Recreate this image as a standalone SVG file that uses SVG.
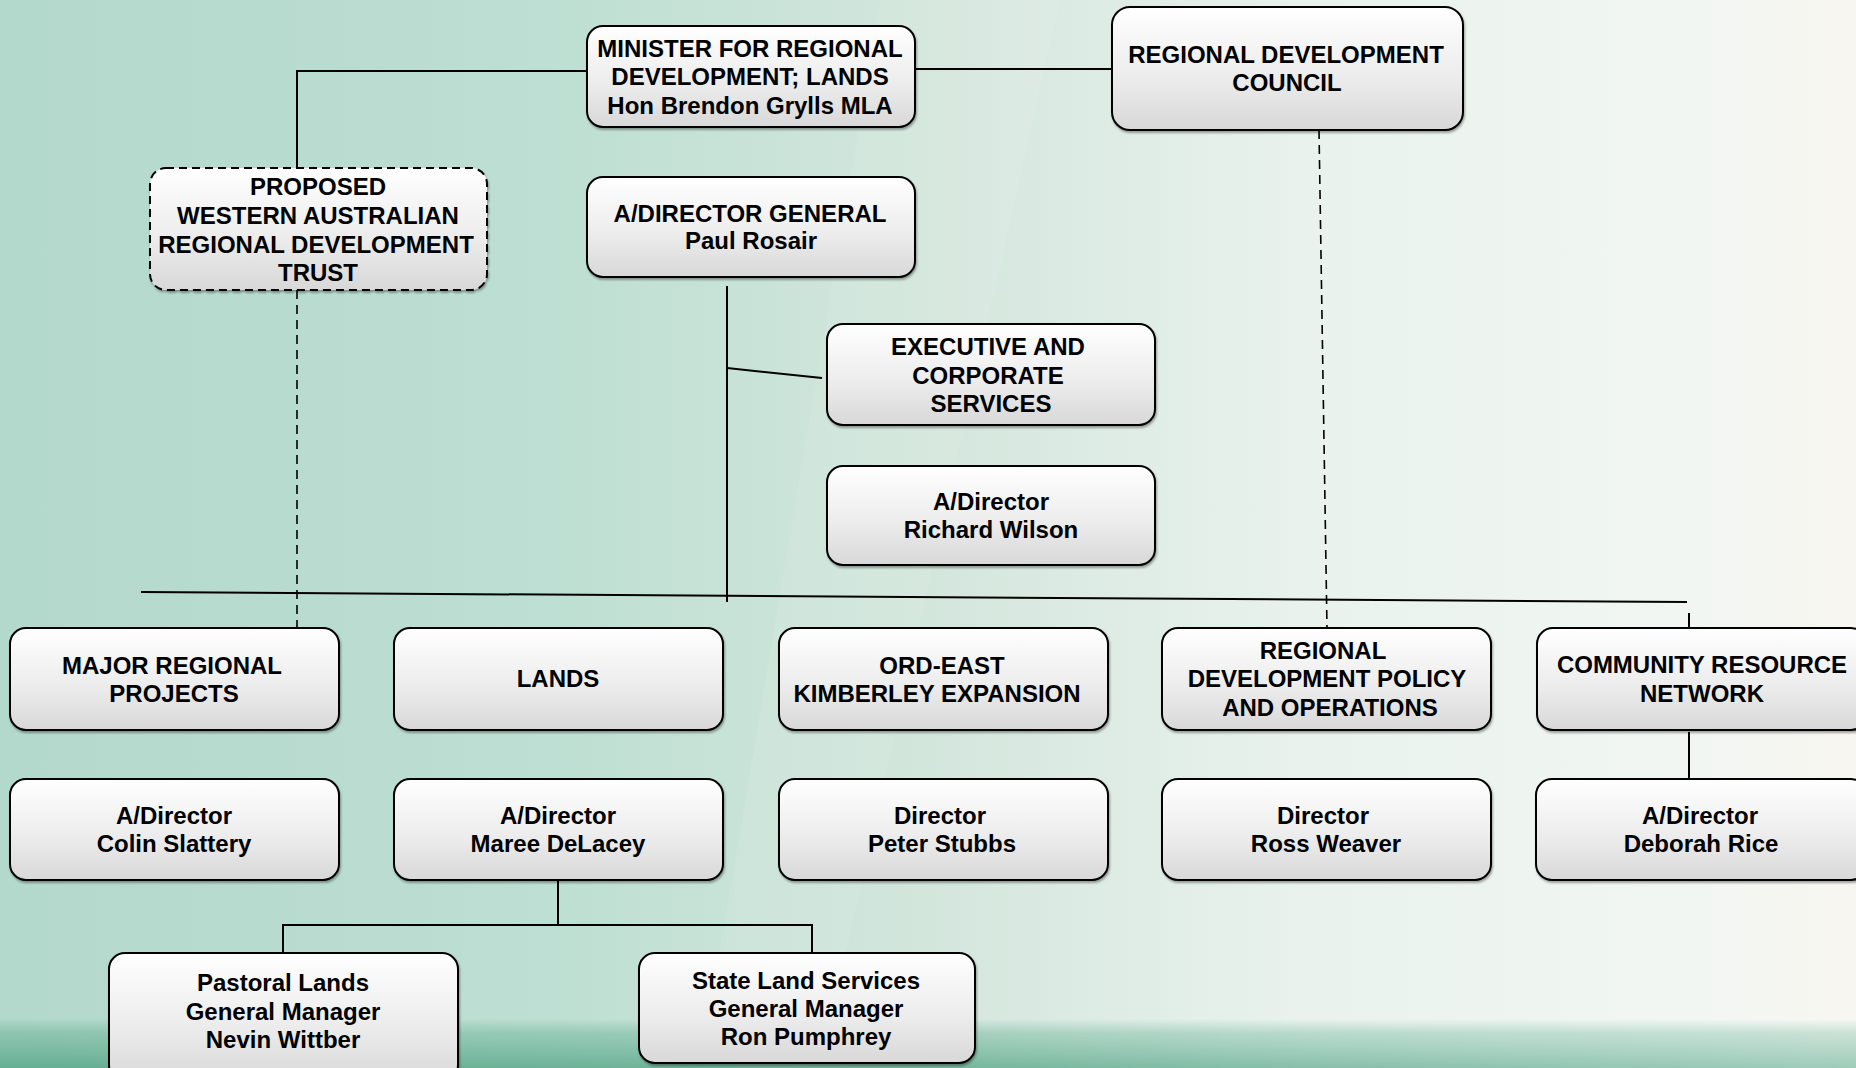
<svg xmlns="http://www.w3.org/2000/svg" width="1856" height="1068" viewBox="0 0 1856 1068">
<defs>
<linearGradient id="bg" x1="0" y1="0" x2="1" y2="0">
<stop offset="0" stop-color="#b3d8cc"/>
<stop offset="0.3" stop-color="#bedfd3"/>
<stop offset="0.5" stop-color="#d3e6dc"/>
<stop offset="0.7" stop-color="#e9f2ed"/>
<stop offset="0.9" stop-color="#f1f6f3"/>
<stop offset="1" stop-color="#f8f6f0"/>
</linearGradient>
<linearGradient id="grass" x1="0" y1="0" x2="0" y2="1">
<stop offset="0" stop-color="#5fae8e" stop-opacity="0"/>
<stop offset="0.3" stop-color="#5fae8e" stop-opacity="0.45"/>
<stop offset="1" stop-color="#4aa07f" stop-opacity="0.75"/>
</linearGradient>
<linearGradient id="grassfade" x1="0" y1="0" x2="1" y2="0">
<stop offset="0" stop-color="#fff" stop-opacity="0"/>
<stop offset="0.5" stop-color="#fff" stop-opacity="0.05"/>
<stop offset="1" stop-color="#fff" stop-opacity="0.3"/>
</linearGradient>
<linearGradient id="box" x1="0" y1="0" x2="0" y2="1">
<stop offset="0" stop-color="#ffffff"/>
<stop offset="0.6" stop-color="#ebebeb"/>
<stop offset="1" stop-color="#d8d8d8"/>
</linearGradient>
<filter id="sh" x="-5%" y="-5%" width="110%" height="120%">
<feDropShadow dx="1" dy="2" stdDeviation="1.2" flood-color="#000" flood-opacity="0.35"/>
</filter>
</defs>
<style>
.n rect{fill:url(#box);stroke:#000;stroke-width:2;filter:url(#sh)}
.n rect.d{stroke-dasharray:8 5}
.n text{font-family:"Liberation Sans",Arial,sans-serif;font-weight:bold;font-size:24px;text-anchor:middle;fill:#000}
.c{stroke:#000;stroke-width:2;fill:none}
.c .dash{stroke-dasharray:9 6;stroke-width:1.6}
</style>
<rect x="0" y="0" width="1856" height="1068" fill="url(#bg)"/>
<polygon points="880,0 1060,0 820,1068 700,1068" fill="#ffffff" opacity="0.08"/>
<rect x="0" y="1018" width="1856" height="50" fill="url(#grass)"/>
<rect x="0" y="1018" width="1856" height="50" fill="url(#grassfade)"/>

<g id="connectors" class="c">
<line x1="915" y1="69" x2="1111" y2="69"/>
<polyline points="587,71 297,71 297,168"/>
<line class="dash" x1="297" y1="290" x2="297" y2="628"/>
<line class="dash" x1="1319" y1="130" x2="1327" y2="628"/>
<line x1="727" y1="286" x2="727" y2="602"/>
<line x1="727" y1="368" x2="822" y2="378"/>
<line x1="141" y1="592" x2="1687" y2="602"/>
<line x1="1689" y1="613" x2="1689" y2="628"/>
<line x1="1689" y1="732" x2="1689" y2="779"/>
<line x1="558" y1="880" x2="558" y2="925"/>
<polyline points="283,953 283,925 812,925 812,953"/>
</g>

<g id="minister" class="n">
<rect x="587" y="26" width="328" height="101" rx="16"/>
<text x="750" y="57">MINISTER FOR REGIONAL</text>
<text x="750" y="85">DEVELOPMENT; LANDS</text>
<text x="750" y="114">Hon Brendon Grylls MLA</text>
</g>
<g id="rdc" class="n">
<rect x="1112" y="7" width="351" height="123" rx="18"/>
<text x="1286" y="63">REGIONAL DEVELOPMENT</text>
<text x="1287" y="91">COUNCIL</text>
</g>
<g id="trust" class="n">
<rect class="d" x="150" y="168" width="337" height="122" rx="16"/>
<text x="318" y="195">PROPOSED</text>
<text x="318" y="224">WESTERN AUSTRALIAN</text>
<text x="316" y="253">REGIONAL DEVELOPMENT</text>
<text x="318" y="281">TRUST</text>
</g>
<g id="dg" class="n">
<rect x="587" y="177" width="328" height="100" rx="16"/>
<text x="750" y="222">A/DIRECTOR GENERAL</text>
<text x="751" y="249">Paul Rosair</text>
</g>
<g id="exec" class="n">
<rect x="827" y="324" width="328" height="101" rx="16"/>
<text x="988" y="355">EXECUTIVE AND</text>
<text x="988" y="384">CORPORATE</text>
<text x="991" y="412">SERVICES</text>
</g>
<g id="exec-dir" class="n">
<rect x="827" y="466" width="328" height="99" rx="16"/>
<text x="991" y="510">A/Director</text>
<text x="991" y="538">Richard Wilson</text>
</g>

<g id="mrp" class="n">
<rect x="10" y="628" width="329" height="102" rx="16"/>
<text x="172" y="674">MAJOR REGIONAL</text>
<text x="174" y="702">PROJECTS</text>
</g>
<g id="lands" class="n">
<rect x="394" y="628" width="329" height="102" rx="16"/>
<text x="558" y="687">LANDS</text>
</g>
<g id="ord" class="n">
<rect x="779" y="628" width="329" height="102" rx="16"/>
<text x="942" y="674">ORD-EAST</text>
<text x="937" y="702">KIMBERLEY EXPANSION</text>
</g>
<g id="rdpo" class="n">
<rect x="1162" y="628" width="329" height="102" rx="16"/>
<text x="1323" y="659">REGIONAL</text>
<text x="1327" y="687">DEVELOPMENT POLICY</text>
<text x="1330" y="716">AND OPERATIONS</text>
</g>
<g id="crn" class="n">
<rect x="1537" y="628" width="330" height="102" rx="16"/>
<text x="1702" y="673">COMMUNITY RESOURCE</text>
<text x="1702" y="702">NETWORK</text>
</g>

<g id="mrp-dir" class="n">
<rect x="10" y="779" width="329" height="101" rx="16"/>
<text x="174" y="824">A/Director</text>
<text x="174" y="852">Colin Slattery</text>
</g>
<g id="lands-dir" class="n">
<rect x="394" y="779" width="329" height="101" rx="16"/>
<text x="558" y="824">A/Director</text>
<text x="558" y="852">Maree DeLacey</text>
</g>
<g id="ord-dir" class="n">
<rect x="779" y="779" width="329" height="101" rx="16"/>
<text x="940" y="824">Director</text>
<text x="942" y="852">Peter Stubbs</text>
</g>
<g id="rdpo-dir" class="n">
<rect x="1162" y="779" width="329" height="101" rx="16"/>
<text x="1323" y="824">Director</text>
<text x="1326" y="852">Ross Weaver</text>
</g>
<g id="crn-dir" class="n">
<rect x="1536" y="779" width="331" height="101" rx="16"/>
<text x="1700" y="824">A/Director</text>
<text x="1701" y="852">Deborah Rice</text>
</g>

<g id="pastoral" class="n">
<rect x="109" y="953" width="349" height="128" rx="16"/>
<text x="283" y="991">Pastoral Lands</text>
<text x="283" y="1020">General Manager</text>
<text x="283" y="1048">Nevin Wittber</text>
</g>
<g id="stateland" class="n">
<rect x="639" y="953" width="336" height="110" rx="16"/>
<text x="806" y="989">State Land Services</text>
<text x="806" y="1017">General Manager</text>
<text x="806" y="1045">Ron Pumphrey</text>
</g>
</svg>
